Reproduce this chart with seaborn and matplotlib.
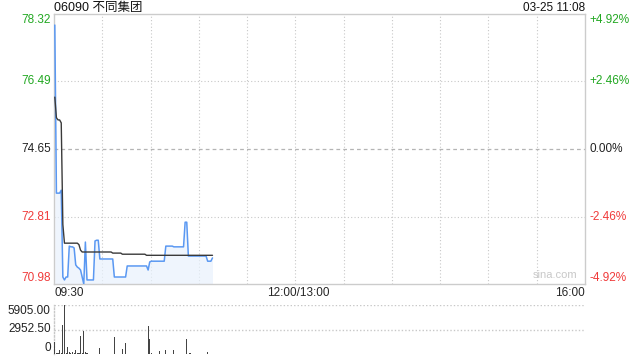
import numpy as np
import pandas as pd
import matplotlib
matplotlib.use("Agg")
import matplotlib.pyplot as plt
import seaborn as sns

# ---------------- data ----------------
title = "06090 不同集团"
stamp = "03-25 11:08"
prev_close = 74.65
price_ticks = [78.32, 76.49, 74.65, 72.81, 70.98]
pct_labels = ["+4.92%", "+2.46%", "0.00%", "-2.46%", "-4.92%"]
vol_ticks = [5905.00, 2952.50, 0]
vol_labels = ["5905.00", "2952.50", "0"]
time_labels = ["09:30", "12:00/13:00", "16:00"]

price = [78.02, 73.45, 73.45, 73.45, 73.53, 71.17, 71.09, 71.17, 71.17, 72.01,
         71.99, 71.99, 71.96, 71.50, 71.44, 71.41, 71.36, 71.17, 70.98, 72.12,
         71.09, 71.09, 71.09, 71.09, 71.09, 72.15, 72.17, 72.17, 71.66, 71.66,
         71.66, 71.66, 71.66, 71.66, 71.66, 71.66, 71.66, 71.17, 71.17, 71.17,
         71.17, 71.17, 71.17, 71.17, 71.17, 71.47, 71.47, 71.47, 71.47, 71.47,
         71.47, 71.47, 71.47, 71.47, 71.47, 71.47, 71.47, 71.47, 71.36, 71.58,
         71.60, 71.60, 71.60, 71.60, 71.60, 71.60, 71.60, 71.60, 71.60, 72.01,
         72.01, 72.01, 72.01, 72.01, 71.99, 71.99, 71.99, 71.99, 71.99, 71.99,
         71.99, 72.66, 72.66, 71.74, 71.74, 71.74, 71.74, 71.74, 71.74, 71.74,
         71.74, 71.74, 71.74, 71.74, 71.74, 71.60, 71.60, 71.60, 71.69]

avg_price = [76.06, 75.50, 75.44, 75.44, 75.36, 72.60, 72.09, 72.09, 72.09, 72.09,
             72.09, 72.09, 72.09, 72.09, 72.09, 72.05, 71.90, 71.85, 71.85, 71.85,
             71.85, 71.85, 71.85, 71.85, 71.85, 71.85, 71.85, 71.85, 71.85, 71.85,
             71.85, 71.85, 71.85, 71.85, 71.85, 71.85, 71.82, 71.82, 71.82, 71.82,
             71.82, 71.82, 71.79, 71.79, 71.79, 71.79, 71.79, 71.79, 71.79, 71.79,
             71.79, 71.79, 71.79, 71.79, 71.79, 71.79, 71.79, 71.76, 71.76, 71.76,
             71.76, 71.76, 71.76, 71.76, 71.76, 71.76, 71.76, 71.76, 71.76, 71.76,
             71.76, 71.76, 71.76, 71.76, 71.76, 71.76, 71.76, 71.76, 71.76, 71.76,
             71.76, 71.76, 71.76, 71.76, 71.76, 71.76, 71.76, 71.76, 71.76, 71.76,
             71.76, 71.76, 71.76, 71.76, 71.76, 71.76, 71.76, 71.76, 71.76]

volume = [1480, 80, 120, 480, 80, 3500, 5905, 120, 880, 200,
          80, 200, 80, 480, 150, 80, 2170, 80, 2770, 250,
          80, 60, 60, 60, 60, 60, 60, 60, 720, 60,
          60, 60, 60, 60, 60, 60, 60, 2050, 60, 60,
          60, 60, 600, 60, 1360, 60, 60, 60, 60, 60,
          60, 60, 60, 60, 60, 60, 60, 60, 3370, 1800,
          150, 60, 60, 60, 60, 400, 60, 60, 60, 480,
          60, 60, 60, 60, 480, 60, 60, 60, 60, 60,
          60, 60, 1800, 60, 150, 60, 60, 60, 60, 60,
          60, 60, 60, 60, 60, 300, 60, 60, 60]

minutes = list(range(len(price)))
df = pd.DataFrame({"t": [m + 0.5 for m in minutes], "price": price,
                   "avg": avg_price, "vol": volume})

# ---------------- style ----------------
sns.set_theme(style="white")
plt.rcParams["font.family"] = ["Liberation Sans", "Noto Sans CJK SC", "DejaVu Sans"]

GREEN = "#22a822"
RED = "#f03a3a"
BLUE = "#5a98f2"
GRID = "#c8c8c8"

fig = plt.figure(figsize=(6.4, 3.6), dpi=100)
ax = fig.add_axes([54 / 640, 1 - 284 / 360, 531 / 640, 270 / 360])
axv = fig.add_axes([54 / 640, 1 - 354 / 360, 531 / 640, 49 / 360])

total_min = 330   # 09:30-12:00 (150) + 13:00-16:00 (180)
lunch_min = 150
ax.set_xlim(0, total_min)
ax.set_ylim(price_ticks[-1], price_ticks[0])

# grid
for k in range(30, total_min, 30):
    ax.axvline(k, color=GRID, lw=0.8, ls=(0, (1, 2)), zorder=0)
for p in price_ticks[1:-1]:
    if p == prev_close:
        ax.axhline(p, color="#b4b4b4", lw=0.9, ls=(0, (3, 2.5)), zorder=0)
    else:
        ax.axhline(p, color=GRID, lw=0.8, ls=(0, (1, 2)), zorder=0)

ax.fill_between(df["t"], df["price"], price_ticks[-1], color="#e9f2fd", alpha=0.7, lw=0, zorder=1)
sns.lineplot(data=df, x="t", y="price", ax=ax, color=BLUE, lw=1.1, zorder=3)
sns.lineplot(data=df, x="t", y="avg", ax=ax, color="#3a3a3a", lw=1.0, zorder=4)

ax.set_xticks([]); ax.set_yticks([])
ax.set_xlabel(""); ax.set_ylabel("")
for s in ax.spines.values():
    s.set_color("#cccccc"); s.set_linewidth(1)

ytr = ax.get_yaxis_transform()
n = len(price_ticks)
for i, (p, lab) in enumerate(zip(price_ticks, pct_labels)):
    col = GREEN if p > prev_close else (RED if p < prev_close else "#222222")
    va = "top" if i == 0 else ("bottom" if i == n - 1 else "center")
    ax.text(-0.006, p, f"{p:.2f}", transform=ytr, ha="right", va=va, color=col, fontsize=8.5)
    ax.text(1.009, p, lab, transform=ytr, ha="left", va=va, color=col, fontsize=8.5)

fig.text(54 / 640, 1 - 8 / 360, title, ha="left", va="center", fontsize=9, color="#111111")
fig.text(585 / 640, 1 - 8 / 360, stamp, ha="right", va="center", fontsize=8.5, color="#111111")
ax.text(0.985, 0.015, "sina.com", transform=ax.transAxes, ha="right", va="bottom",
        fontsize=8, color="#c8c8c8")

xtr = ax.get_xaxis_transform()
ax.text(0.3, -0.035, time_labels[0], transform=xtr, ha="left", va="center", fontsize=8.5)
ax.text(lunch_min + 2, -0.035, time_labels[1], transform=xtr, ha="center", va="center", fontsize=8.5)
ax.text(total_min, -0.035, time_labels[2], transform=xtr, ha="right", va="center", fontsize=8.5)

# volume
axv.set_xlim(0, total_min)
axv.set_ylim(0, vol_ticks[0])
axv.bar(df["t"], df["vol"], width=0.7, color="#444444", lw=0, zorder=3)
for v in vol_ticks[:-1]:
    axv.axhline(v, color=GRID, lw=1.0, ls=(0, (1, 1.5)), zorder=0)
axv.set_xticks([]); axv.set_yticks([])
for name, s in axv.spines.items():
    if name == "left":
        s.set_color(GRID); s.set_linestyle((0, (1, 1.5))); s.set_linewidth(1.0)
    else:
        s.set_visible(False)
vtr = axv.get_yaxis_transform()
for i, (v, lab) in enumerate(zip(vol_ticks, vol_labels)):
    va = "top" if i == 0 else ("bottom" if i == len(vol_ticks) - 1 else "center")
    axv.text(-0.006, v, lab, transform=vtr, ha="right", va=va, color="#222222", fontsize=8.5)

fig.savefig("out.png", dpi=100)
